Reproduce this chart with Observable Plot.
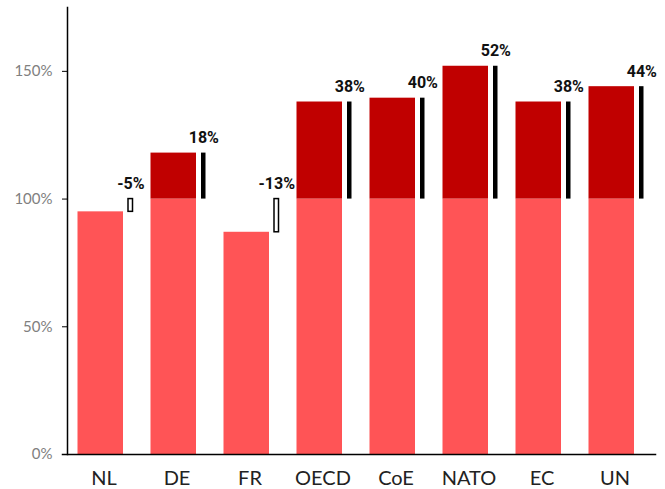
<!DOCTYPE html>
<html>
<head>
<meta charset="utf-8">
<script src="https://cdn.jsdelivr.net/npm/d3@7"></script>
<script src="https://cdn.jsdelivr.net/npm/@observablehq/plot@0.6"></script>
<style>
  html, body { margin: 0; padding: 0; background: #fff; }
  #chart svg { display: block; }
</style>
</head>
<body>
<div id="chart"></div>
<script>
const categories = ["NL", "DE", "FR", "OECD", "CoE", "NATO", "EC", "UN"];
const values = [0.95, 1.18, 0.87, 1.38, 1.395, 1.52, 1.38, 1.44];
const changeLabels = ["-5%", "18%", "-13%", "38%", "40%", "52%", "38%", "44%"];
const yTicks = [0, 0.5, 1, 1.5];

const data = categories.map((c, i) => ({cat: c, v: values[i], label: changeLabels[i]}));
const above = data.filter(d => d.v > 1);
const below = data.filter(d => d.v < 1);

const lightRed = "#FF5456";
const darkRed = "#C00000";

const chart = Plot.plot({
  width: 665,
  height: 489,
  marginLeft: 67,
  marginRight: 10,
  marginTop: 7,
  marginBottom: 35,
  style: {fontFamily: "Lato, sans-serif", background: "#fff"},
  x: {domain: categories, range: [67, 651], padding: 0, label: null},
  y: {domain: [0, 1.75], label: null},
  marks: [
    Plot.barY(data, {x: "cat", y1: 0, y2: d => Math.min(d.v, 1), fill: lightRed, insetLeft: 10.5, insetRight: 17}),
    Plot.barY(above, {x: "cat", y1: 1, y2: "v", fill: darkRed, insetLeft: 10.5, insetRight: 17}),
    Plot.barY(above, {x: "cat", y1: 1, y2: "v", fill: "#000", insetLeft: 61, insetRight: 7.5}),
    Plot.barY(below, {x: "cat", y1: "v", y2: 1, fill: "#fff", stroke: "#000", strokeWidth: 1.5, insetLeft: 61, insetRight: 7.5}),
    Plot.text(data, {x: "cat", y: d => Math.max(d.v, 1), text: "label", dx: 26.8, dy: -10, lineAnchor: "bottom", textAnchor: "middle", fontFamily: "Roboto, sans-serif", fontWeight: "bold", fontSize: 16, fill: "#111"}),
    Plot.axisY({ticks: yTicks, tickFormat: d => `${Math.round(d * 100)}%`, tickSize: 5, tickPadding: 10, fontSize: 15, color: "#808080", stroke: "#000"}),
    Plot.axisX({tickSize: 0, tickPadding: 16, fontSize: 20, color: "#222"}),
    Plot.frame({anchor: "left", stroke: "#000", strokeWidth: 1.5}),
    Plot.frame({anchor: "bottom", stroke: "#000", strokeWidth: 1.5, insetLeft: -5})
  ]
});
document.getElementById("chart").appendChild(chart);
</script>
</body>
</html>
